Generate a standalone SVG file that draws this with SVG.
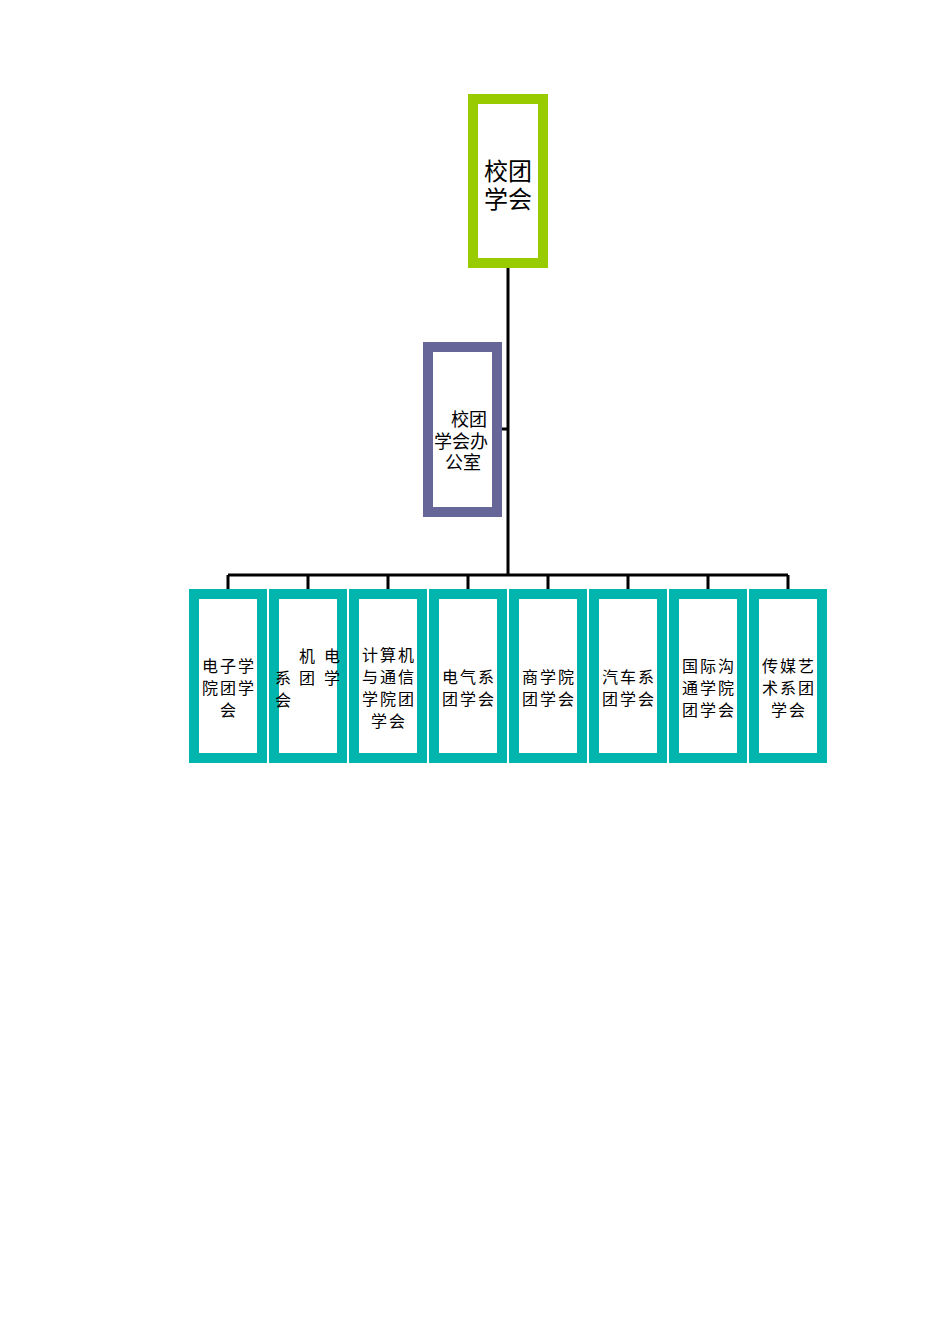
<svg xmlns="http://www.w3.org/2000/svg" width="950" height="1344" viewBox="0 0 950 1344">
<style>
.bg{fill:#ffffff}
.top{fill:#ffffff;stroke:#99CC00;stroke-width:10}
.off{fill:#ffffff;stroke:#666699;stroke-width:10}
.dep{fill:#ffffff;stroke:#00B5AD;stroke-width:10}
.ln{stroke:#000000;stroke-width:3;fill:none}
text{font-family:"Noto Sans CJK SC","Noto Sans",sans-serif;fill:#000000}
.t1{font-size:24px;text-anchor:middle}
.t2{font-size:18px}
.t3{font-size:16px;text-anchor:middle;letter-spacing:2px}
.t3s{font-size:16px}
</style>
<rect class="bg" x="0" y="0" width="950" height="1344"/>
<g id="connectors">
<path class="ln" d="M508,268 V575 M502,429 H508 M228,575 H788 M228,575 V589 M308,575 V589 M388,575 V589 M468,575 V589 M548,575 V589 M628,575 V589 M708,575 V589 M788,575 V589"/>
</g>
<g id="n-top">
<rect class="top" x="473" y="99" width="70" height="164"/>
<text class="t1"><tspan x="508" y="180">校团</tspan><tspan x="508" y="208">学会</tspan></text>
</g>
<g id="n-office">
<rect class="off" x="428" y="347" width="69" height="165"/>
<text class="t2"><tspan x="451" y="426">校团</tspan><tspan x="434" y="448">学会办</tspan><tspan x="445" y="469">公室</tspan></text>
</g>
<g id="n-d1">
<rect class="dep" x="194" y="594" width="68" height="164"/>
<text class="t3"><tspan x="229" y="672">电子学</tspan><tspan x="229" y="694">院团学</tspan><tspan x="229" y="716">会</tspan></text>
</g>
<g id="n-d2">
<rect class="dep" x="274" y="594" width="68" height="164"/>
<text class="t3s"><tspan x="299" y="662">机</tspan><tspan x="324" y="662">电</tspan><tspan x="275" y="684">系</tspan><tspan x="299" y="684">团</tspan><tspan x="324" y="684">学</tspan><tspan x="275" y="706">会</tspan></text>
</g>
<g id="n-d3">
<rect class="dep" x="354" y="594" width="68" height="164"/>
<text class="t3"><tspan x="389" y="661">计算机</tspan><tspan x="389" y="683">与通信</tspan><tspan x="389" y="705">学院团</tspan><tspan x="389" y="727">学会</tspan></text>
</g>
<g id="n-d4">
<rect class="dep" x="434" y="594" width="68" height="164"/>
<text class="t3"><tspan x="469" y="683">电气系</tspan><tspan x="469" y="705">团学会</tspan></text>
</g>
<g id="n-d5">
<rect class="dep" x="514" y="594" width="68" height="164"/>
<text class="t3"><tspan x="549" y="683">商学院</tspan><tspan x="549" y="705">团学会</tspan></text>
</g>
<g id="n-d6">
<rect class="dep" x="594" y="594" width="68" height="164"/>
<text class="t3"><tspan x="629" y="683">汽车系</tspan><tspan x="629" y="705">团学会</tspan></text>
</g>
<g id="n-d7">
<rect class="dep" x="674" y="594" width="68" height="164"/>
<text class="t3"><tspan x="709" y="672">国际沟</tspan><tspan x="709" y="694">通学院</tspan><tspan x="709" y="716">团学会</tspan></text>
</g>
<g id="n-d8">
<rect class="dep" x="754" y="594" width="68" height="164"/>
<text class="t3"><tspan x="789" y="672">传媒艺</tspan><tspan x="789" y="694">术系团</tspan><tspan x="789" y="716">学会</tspan></text>
</g>
</svg>
